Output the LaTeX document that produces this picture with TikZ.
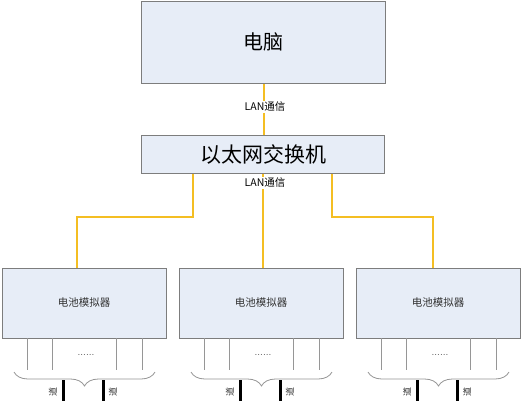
\documentclass[tikz,border=0pt]{standalone}
\usepackage{fontspec}
\newfontfamily\cjk{Noto Sans CJK SC}
\usetikzlibrary{decorations.pathreplacing}
\definecolor{boxfill}{RGB}{231,237,247}
\definecolor{boxline}{RGB}{125,125,125}
\definecolor{lanyellow}{RGB}{244,190,35}
\definecolor{portgray}{RGB}{150,150,150}
\tikzset{
  bigbox/.style={draw=boxline, fill=boxfill, line width=1pt, inner sep=0pt},
  lan/.style={draw=lanyellow, line width=2.6pt},
  lanlabel/.style={fill=white, inner sep=1pt, font=\cjk\fontsize{10.5}{12}\selectfont},
  simlabel/.style={font=\cjk\fontsize{10.5}{12}\selectfont, text=black!80},
  port/.style={draw=portgray, line width=0.8pt},
  thick port/.style={draw=black, line width=3pt},
  bracestyle/.style={draw=portgray, line width=0.8pt, decorate, decoration={brace, mirror, amplitude=14pt}},
  chlabel/.style={font=\cjk\fontsize{9}{10}\selectfont, rotate=90, anchor=center, inner sep=0pt, text=black!80}
}
\begin{document}
\begin{tikzpicture}[x=1pt, y=-1pt]
\useasboundingbox (0,0) rectangle (526,400);
\clip (0,0) rectangle (526,400);
\fill[white] (0,0) rectangle (526,400);
% top boxes
\node[bigbox, minimum width=244pt, minimum height=82pt] (pc) at (263,42) {};
\node[font=\cjk\fontsize{20}{22}\selectfont] (pct) at (263,42) {电脑};
\node[bigbox, minimum width=243pt, minimum height=38pt] (sw) at (262.5,154) {};
\node[font=\cjk\fontsize{21}{23}\selectfont] (swt) at (263,154) {以太网交换机};
% simulators
\foreach \n/\x in {1/2, 2/179, 3/356}{
  \node[bigbox, minimum width=164pt, minimum height=70pt, anchor=north west] (sim\n) at (\x,268) {};
  \node[simlabel] (simt\n) at (\x+82,302) {电池模拟器};
  \foreach \d in {25,50,114,140}{
    \coordinate (p\n\d) at (\x+\d,338);
    \draw[port] (p\n\d) -- ++(0,32);
  }
  \node[font=\fontsize{10}{10}\selectfont, text=black!70] (dots\n) at (\x+84,355) {......};
  \coordinate (bl\n) at (\x+12,372);
  \coordinate (br\n) at (\x+153,372);
  \draw[bracestyle] (bl\n) -- (br\n);
  \coordinate (ta\n) at (\x+61,380);
  \coordinate (tb\n) at (\x+101,380);
  \draw[thick port] (ta\n) -- ++(0,25);
  \draw[thick port] (tb\n) -- ++(0,25);
  \node[chlabel] (cha\n) at (\x+51,392) {道};
  \node[chlabel] (chb\n) at (\x+111,392) {道};
}
% LAN connections
\draw[lan] (pc.south -| 264,0) -- (sw.north -| 264,0);
\node[lanlabel] (lan1) at (265,107) {LAN通信};
\draw[lan] (sw.south -| 193,0) |- (77,217) -- (sim1.north -| 77,0);
\draw[lan] (sw.south -| 332,0) |- (433,217) -- (sim3.north -| 433,0);
\draw[lan] (sw.south -| 263,0) -- (sim2.north -| 263,0);
\node[lanlabel] (lan2) at (265,183) {LAN通信};
\end{tikzpicture}
\end{document}
